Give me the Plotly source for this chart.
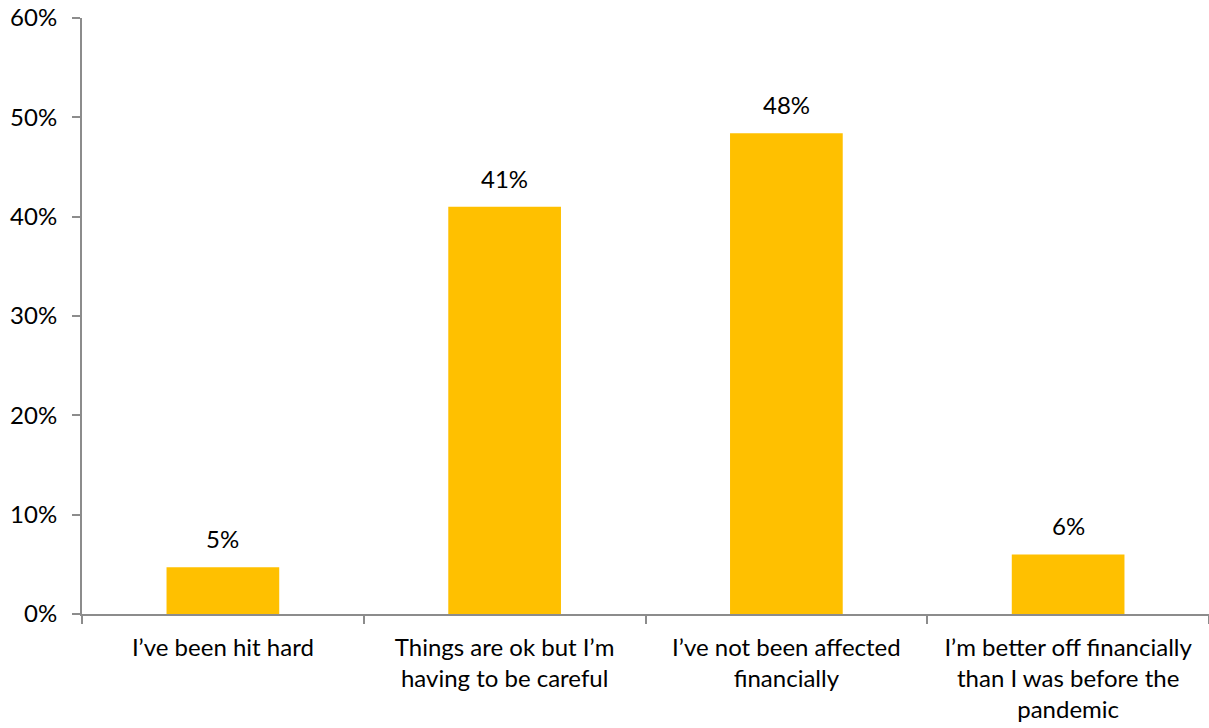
import plotly.graph_objects as go

categories = [
    "I’ve been hit hard",
    "Things are ok but I’m<br>having to be careful",
    "I’ve not been affected<br>financially",
    "I’m better off financially<br>than I was before the<br>pandemic",
]
shares = [4.7, 41.0, 48.4, 6.0]
y_ticks = [0, 10, 20, 30, 40, 50, 60]
y_tick_labels = ["0%", "10%", "20%", "30%", "40%", "50%", "60%"]

FONT = "Lato"
FONT_SIZE = 24
AXIS_GREY = "#8c8c8c"

fig = go.Figure(
    go.Bar(
        x=categories,
        y=shares,
        marker=dict(color="#FFC000", line=dict(width=0)),
        width=0.4,
        hoverinfo="skip",
    )
)

# value labels sitting a little above each bar
for cat, val in zip(categories, shares):
    fig.add_annotation(
        x=cat,
        y=val,
        text=f"{val:.0f}%",
        showarrow=False,
        yanchor="bottom",
        yshift=12,
        font=dict(family=FONT, size=FONT_SIZE, color="#000000"),
    )

fig.update_layout(
    width=1209,
    height=728,
    margin=dict(l=82, r=0, t=18, b=114),
    paper_bgcolor="white",
    plot_bgcolor="white",
    showlegend=False,
    font=dict(family=FONT, size=FONT_SIZE, color="#000000"),
)

fig.update_xaxes(
    showline=True,
    linecolor=AXIS_GREY,
    linewidth=2,
    ticks="outside",
    tickson="boundaries",
    ticklen=8,
    tickwidth=2,
    tickcolor=AXIS_GREY,
    showgrid=False,
    ticklabelstandoff=11,
    tickfont=dict(family=FONT, size=FONT_SIZE, color="#000000"),
)

fig.update_yaxes(
    range=[0, 60],
    tickvals=y_ticks,
    ticktext=y_tick_labels,
    showline=True,
    linecolor=AXIS_GREY,
    linewidth=2,
    ticks="outside",
    ticklen=8,
    tickwidth=2,
    tickcolor=AXIS_GREY,
    showgrid=False,
    zeroline=False,
    ticklabelstandoff=10,
    tickfont=dict(family=FONT, size=FONT_SIZE, color="#000000"),
)

fig.write_html("out.html")
